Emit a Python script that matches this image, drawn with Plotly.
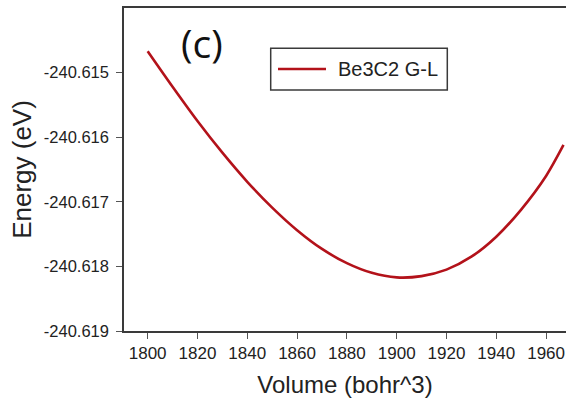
import plotly.graph_objects as go

# Data
volume = [1800, 1810, 1820, 1830, 1840, 1850, 1860, 1870, 1880, 1890,
          1900, 1910, 1920, 1930, 1940, 1950, 1960, 1967]
energy = [-240.61467, -240.61522, -240.61575, -240.61624, -240.61669,
          -240.61709, -240.61744, -240.61773, -240.61795, -240.61810,
          -240.61817, -240.61815, -240.61805, -240.61785, -240.61754,
          -240.61712, -240.61660, -240.61612]
series_name = "Be3C2 G-L"
panel_label = "(c)"
x_ticks = [1800, 1820, 1840, 1860, 1880, 1900, 1920, 1940, 1960]
y_ticks = [-240.615, -240.616, -240.617, -240.618, -240.619]

RED = "#b3121a"
AXIS = "#3a3a3a"

fig = go.Figure()
fig.add_trace(go.Scatter(
    x=volume, y=energy, mode="lines", name=series_name,
    line=dict(color=RED, width=2.6, shape="spline", smoothing=0.8),
    showlegend=False,
))

# legend box drawn like the original (frame, sample line, label)
fig.add_shape(type="rect", xref="paper", yref="paper",
              x0=(270.7 - 124) / 442, x1=(447.3 - 124) / 442,
              y0=(331 - 90) / 323, y1=(331 - 48.3) / 323,
              line=dict(color=AXIS, width=1.5), fillcolor="white")
fig.add_shape(type="line", xref="paper", yref="paper",
              x0=(278 - 124) / 442, x1=(326 - 124) / 442,
              y0=(331 - 69) / 323, y1=(331 - 69) / 323,
              line=dict(color=RED, width=2.6))
fig.add_annotation(text=series_name, xref="paper", yref="paper",
                   x=(336 - 124) / 442, y=(331 - 69) / 323,
                   xanchor="left", yanchor="middle", showarrow=False,
                   font=dict(family="Liberation Sans, Arial", size=20, color="#222"))

fig.add_annotation(text=panel_label, xref="paper", yref="paper",
                   x=(202 - 124) / 442, y=(331 - 42) / 323,
                   xanchor="center", yanchor="middle", showarrow=False,
                   font=dict(family="Open Sans", size=39, color="#111"))

fig.update_layout(
    width=566, height=403,
    margin=dict(l=124, r=0, t=8, b=72),
    paper_bgcolor="white", plot_bgcolor="white",
    font=dict(family="Liberation Sans, Arial", color="#222"),
    showlegend=False,
)
fig.update_xaxes(
    range=[1790.5, 1968], tickvals=x_ticks, ticktext=[str(v) for v in x_ticks],
    showline=True, linecolor=AXIS, linewidth=1.5, mirror=True,
    ticks="outside", ticklen=6, tickcolor="#555", tickwidth=1.2,
    showgrid=False, zeroline=False,
    tickfont=dict(size=17, color="#222"),
    title=dict(text="Volume (bohr^3)", font=dict(size=24, color="#222"), standoff=14),
)
fig.update_yaxes(
    range=[-240.619, -240.614], tickvals=y_ticks,
    ticktext=["%.3f" % v for v in y_ticks],
    showline=True, linecolor=AXIS, linewidth=1.5, mirror=False,
    ticks="outside", ticklen=6, tickcolor="#555", tickwidth=1.2,
    showgrid=False, zeroline=False,
    tickfont=dict(size=16.5, color="#222"),
    ticklabelstandoff=4,
    title=dict(text="Energy (eV)", font=dict(size=26, color="#222"), standoff=5),
)

fig.write_html("out.html")
